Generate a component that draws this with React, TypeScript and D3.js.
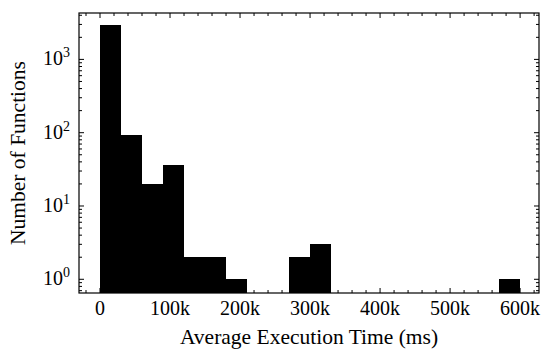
import * as d3 from 'd3'

// histogram of average execution times, 30k-wide bins
const binStarts = [0, 30000, 60000, 90000, 120000, 150000, 180000, 210000, 240000, 270000, 300000, 330000, 360000, 390000, 420000, 450000, 480000, 510000, 540000, 570000]
const binWidth = 30000
const counts = [2950, 93, 20, 36, 2, 2, 1, 0, 0, 2, 3, 0, 0, 0, 0, 0, 0, 0, 0, 1]
const xTicks = [0, 100000, 200000, 300000, 400000, 500000, 600000]
const xTickLabels = ['0', '100k', '200k', '300k', '400k', '500k', '600k']
const yExponents = [0, 1, 2, 3]

const W = 542
const H = 349
const margin = {top: 13, right: 3, bottom: 56, left: 79}
const font = 'Liberation Serif, Times New Roman, serif'

export default function App() {
  const left = margin.left
  const right = W - margin.right
  const top = margin.top
  const bottom = H - margin.bottom

  const x = d3.scaleLinear().domain([-30000, 627000]).range([left, right])
  const y = d3.scaleLog().domain([Math.pow(10, -0.187), Math.pow(10, 3.633)]).range([bottom, top])

  const [x0, x1] = x.domain()
  const minorX = d3.range(-100000, 700001, 20000).filter(v => v >= x0 && v <= x1 && !xTicks.includes(v))
  const [y0, y1] = y.domain()
  const minorY: number[] = []
  for (let e = -1; e <= 3; e++) {
    for (let m = 2; m <= 9; m++) {
      const v = m * Math.pow(10, e)
      if (v >= y0 && v <= y1) minorY.push(v)
    }
  }

  const majLen = 5
  const minLen = 3

  return (
    <svg width={W} height={H} style={{position: 'absolute', left: 0, top: 0, background: '#fff'}}>
      <g>
        {counts.map((c, i) =>
          c > 0 ? (
            <rect
              key={i}
              x={x(binStarts[i])}
              y={y(c)}
              width={x(binStarts[i] + binWidth) - x(binStarts[i])}
              height={bottom - y(c)}
              fill="#000"
              shapeRendering="crispEdges"
            />
          ) : null,
        )}
      </g>
      <g stroke="#000" strokeWidth={1}>
        {xTicks.map(v => (
          <g key={'xm' + v}>
            <line x1={x(v)} x2={x(v)} y1={bottom} y2={bottom - majLen} />
            <line x1={x(v)} x2={x(v)} y1={top} y2={top + majLen} />
          </g>
        ))}
        {minorX.map(v => (
          <g key={'xn' + v}>
            <line x1={x(v)} x2={x(v)} y1={bottom} y2={bottom - minLen} />
            <line x1={x(v)} x2={x(v)} y1={top} y2={top + minLen} />
          </g>
        ))}
        {yExponents.map(e => (
          <g key={'ym' + e}>
            <line x1={left} x2={left + majLen} y1={y(Math.pow(10, e))} y2={y(Math.pow(10, e))} />
            <line x1={right} x2={right - majLen} y1={y(Math.pow(10, e))} y2={y(Math.pow(10, e))} />
          </g>
        ))}
        {minorY.map(v => (
          <g key={'yn' + v}>
            <line x1={left} x2={left + minLen} y1={y(v)} y2={y(v)} />
            <line x1={right} x2={right - minLen} y1={y(v)} y2={y(v)} />
          </g>
        ))}
      </g>
      <rect x={left} y={top} width={right - left} height={bottom - top} fill="none" stroke="#000" strokeWidth={1.2} />
      <g style={{fontFamily: font}} fontSize={20} fill="#000">
        {xTicks.map((v, i) => (
          <text key={'xl' + v} x={x(v)} y={bottom + 22} textAnchor="middle">
            {xTickLabels[i]}
          </text>
        ))}
        {yExponents.map(e => (
          <text key={'yl' + e} x={left - 9} y={y(Math.pow(10, e)) + 6} textAnchor="end">
            10
            <tspan fontSize={14} dy={-8}>
              {e}
            </tspan>
          </text>
        ))}
        <text x={(left + right) / 2} y={H - 5} textAnchor="middle" fontSize={21.5}>
          Average Execution Time (ms)
        </text>
        <text transform={`translate(25,${(top + bottom) / 2}) rotate(-90)`} textAnchor="middle" fontSize={21.5}>
          Number of Functions
        </text>
      </g>
    </svg>
  )
}
